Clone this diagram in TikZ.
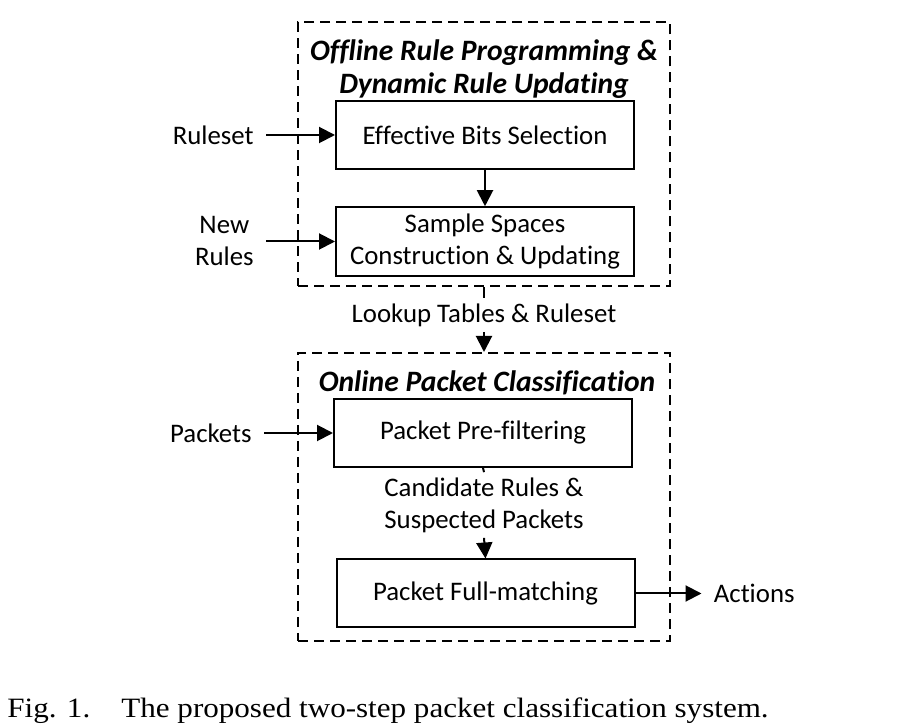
\documentclass[tikz,border=0pt]{standalone}
\usepackage{fontspec}
\setmainfont[Ligatures=NoCommon]{Carlito}
\newfontfamily\capfont{Liberation Serif}
\usetikzlibrary{positioning,arrows.meta}
\tikzset{
block/.style={draw, line width=1pt, minimum width=149pt, minimum height=34pt,
align=center, font=\fontsize{13.4}{16}\selectfont},
region/.style={draw, dash pattern=on 5pt off 3pt, line width=1pt, minimum width=186pt},
heading/.style={font=\fontsize{14.8}{16.5}\selectfont\bfseries\itshape, align=center},
tag/.style={font=\fontsize{13.4}{16}\selectfont, align=center, inner xsep=6pt, inner ysep=2.5pt},
arrow/.style={-{Triangle[length=8pt,width=8pt]}, line width=1pt}
}

\begin{document}
\begin{tikzpicture}[x=0.5pt,y=-0.5pt,node distance=34.5pt]
\useasboundingbox (0,0) rectangle (921,726);
% offline part
\node[region, minimum height=132pt](offline) at (484,154.5){};
\node[heading](offtitle) at (484,69){Offline Rule Programming \&\\Dynamic Rule Updating};
\node[block](ebs) at (485,135){Effective Bits Selection};
\node[block](ssc) at (485,241.5){Sample Spaces\\Construction \& Updating};
\node[tag,left=of ebs](ruleset){Ruleset};
\node[tag,left=of ssc](newrules){New\\Rules};
% online part
\node[region, minimum height=144pt](online) at (484,497){};
\node[heading](ontitle) at (487,383){Online Packet Classification};
\node[block](ppf) at (483,433){Packet Pre-filtering};
\node[block](pfm) at (485.5,593.5){Packet Full-matching};
\node[tag,left=of ppf](packets){Packets};
\node[tag,right=33pt of pfm](actions){Actions};
% labels between
\node[tag](lookup) at (484,315){Lookup Tables \& Ruleset};
\node[tag](cand) at (484,505){Candidate Rules \&\\Suspected Packets};
\foreach \x/\y in {ruleset/ebs,newrules/ssc,ebs/ssc,packets/ppf,pfm/actions}
\draw[arrow](\x)--(\y);
\draw[line width=1pt](offline.south)--(lookup.north);
\draw[arrow](lookup.south)--(online.north);
\draw[line width=1pt](ppf.south)--(cand.north);
\draw[arrow](cand.south)--(pfm.north);
% caption
\node[anchor=base west, inner sep=0pt, font=\capfont\fontsize{14}{16}\selectfont](caption) at (7,717)
{\scalebox{1.11}[1]{Fig. 1.\hspace{14pt}The proposed two-step packet classification system.}};
\end{tikzpicture}
\end{document}
